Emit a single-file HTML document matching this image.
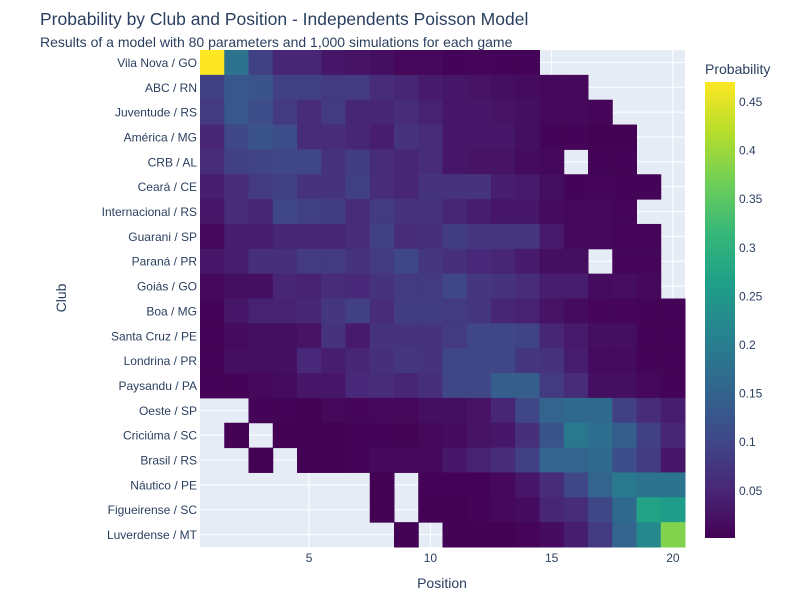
<!DOCTYPE html>
<html><head><meta charset="utf-8">
<style>
body{margin:0;background:#fff;}
svg{display:block;font-family:"Liberation Sans",sans-serif;}
</style></head>
<body>
<svg id="chart" width="800" height="600" xmlns="http://www.w3.org/2000/svg">
<rect width="800" height="600" fill="#fff"/>
<text x="40" y="25" font-size="17.5" fill="#2a3f5f">Probability by Club and Position - Independents Poisson Model</text>
<text x="40" y="47" font-size="14" fill="#2a3f5f">Results of a model with 80 parameters and 1,000 simulations for each game</text>
<rect x="200" y="50" width="485" height="497" fill="#e5ecf6"/>
<g id="grid"></g>
<g id="cells"></g>
<g id="yticks"></g>
<g id="xticks"></g>
<text x="442" y="588" font-size="14" fill="#2a3f5f" text-anchor="middle">Position</text>
<text x="0" y="0" font-size="14" fill="#2a3f5f" text-anchor="middle" transform="translate(66,298) rotate(-90)">Club</text>
<text x="705" y="74" font-size="14" fill="#2a3f5f">Probability</text>
<defs><linearGradient id="vir" x1="0" y1="1" x2="0" y2="0"></linearGradient></defs>
<rect x="705" y="82" width="30" height="456" fill="url(#vir)"/>
<g id="cbticks"></g>
</svg>
<script>
const clubs=["Vila Nova / GO","ABC / RN","Juventude / RS","América / MG","CRB / AL","Ceará / CE","Internacional / RS","Guarani / SP","Paraná / PR","Goiás / GO","Boa / MG","Santa Cruz / PE","Londrina / PR","Paysandu / PA","Oeste / SP","Criciúma / SC","Brasil / RS","Náutico / PE","Figueirense / SC","Luverdense / MT"];
const positions=[1,2,3,4,5,6,7,8,9,10,11,12,13,14,15,16,17,18,19,20];
const xTicks=[5,10,15,20];
const cbTicks=[0.05,0.1,0.15,0.2,0.25,0.3,0.35,0.4,0.45];
const N=null;
const r0=[0.47,0.18,0.09,0.05,0.05,0.03,0.025,0.02,0.01,0.01,0.005,0.008,0.005,0.005,N,N,N,N,N,N];
const r1=[0.09,0.13,0.12,0.09,0.09,0.08,0.08,0.06,0.05,0.035,0.03,0.025,0.02,0.015,0.01,0.01,N,N,N,N];
const r2=[0.08,0.13,0.11,0.08,0.06,0.08,0.05,0.05,0.06,0.045,0.03,0.03,0.025,0.02,0.01,0.01,0.008,N,N,N];
const r3=[0.05,0.1,0.12,0.11,0.06,0.06,0.05,0.04,0.07,0.06,0.03,0.03,0.03,0.02,0.005,0.005,0.003,0.003,N,N];
const r4=[0.06,0.09,0.095,0.1,0.1,0.07,0.085,0.06,0.05,0.06,0.03,0.025,0.025,0.015,0.012,N,0.005,0.005,N,N];
const r5=[0.04,0.06,0.08,0.09,0.07,0.07,0.09,0.06,0.05,0.07,0.07,0.07,0.04,0.035,0.02,0.005,0.008,0.005,0.005,N];
const r6=[0.03,0.06,0.05,0.1,0.09,0.085,0.06,0.08,0.07,0.07,0.05,0.04,0.03,0.03,0.015,0.01,0.01,0.008,N,N];
const r7=[0.01,0.04,0.04,0.05,0.05,0.05,0.06,0.09,0.06,0.065,0.085,0.075,0.075,0.075,0.035,0.012,0.012,0.008,0.008,N];
const r8=[0.03,0.04,0.065,0.065,0.08,0.08,0.07,0.08,0.1,0.075,0.065,0.055,0.05,0.035,0.02,0.02,N,0.008,0.008,N];
const r9=[0.01,0.02,0.02,0.05,0.045,0.06,0.055,0.07,0.08,0.08,0.1,0.075,0.07,0.06,0.04,0.04,0.015,0.018,0.01,N];
const r10=[0.005,0.03,0.045,0.045,0.05,0.075,0.09,0.06,0.085,0.085,0.08,0.075,0.05,0.045,0.025,0.015,0.008,0.008,0.005,0.005];
const r11=[0.005,0.015,0.02,0.02,0.025,0.07,0.035,0.07,0.07,0.07,0.08,0.1,0.1,0.095,0.05,0.035,0.02,0.02,0.005,0.005];
const r12=[0.005,0.02,0.02,0.02,0.055,0.04,0.05,0.065,0.075,0.07,0.1,0.1,0.1,0.075,0.07,0.04,0.015,0.015,0.005,0.005];
const r13=[0.005,0.005,0.01,0.015,0.03,0.03,0.055,0.06,0.05,0.065,0.1,0.1,0.14,0.14,0.08,0.06,0.02,0.02,0.01,0.005];
const r14=[N,N,0.005,0.005,0.003,0.01,0.008,0.012,0.01,0.02,0.02,0.025,0.05,0.1,0.15,0.16,0.16,0.09,0.06,0.04];
const r15=[N,0.003,N,0.003,0.003,0.003,0.005,0.007,0.006,0.01,0.015,0.025,0.03,0.065,0.12,0.19,0.17,0.14,0.09,0.05];
const r16=[N,N,0.003,N,0.003,0.003,0.005,0.01,0.01,0.012,0.03,0.045,0.06,0.09,0.15,0.15,0.16,0.11,0.08,0.03];
const r17=[N,N,N,N,N,N,N,0.003,N,0.004,0.004,0.004,0.01,0.03,0.06,0.1,0.15,0.19,0.18,0.18];
const r18=[N,N,N,N,N,N,N,0.003,N,0.003,0.003,0.005,0.01,0.015,0.05,0.06,0.1,0.16,0.27,0.26];
const r19=[N,N,N,N,N,N,N,N,0.003,N,0.003,0.003,0.003,0.008,0.015,0.04,0.08,0.15,0.22,0.38];
const values=[r0,r1,r2,r3,r4,r5,r6,r7,r8,r9,r10,r11,r12,r13,r14,r15,r16,r17,r18,r19];

const NS="http://www.w3.org/2000/svg";
const X0=200,X1=685,Y0=50,Y1=547;
const cw=(X1-X0)/positions.length, rh=(Y1-Y0)/clubs.length;
function xs(p){return X0+(p-0.5)*cw;}
function ys(i){return Y0+(i+0.5)*rh;}
const zmin=0.001,zmax=0.47;
const CB0=538,CB1=82;
function cby(v){return CB0-(v-zmin)/(zmax-zmin)*(CB0-CB1);}
const vir=[[68,1,84],[72,40,120],[62,74,137],[49,104,142],[38,130,142],[31,158,137],[53,183,121],[110,206,88],[181,222,43],[253,231,37]];
function color(v){let t=Math.max(0,Math.min(1,(v-zmin)/(zmax-zmin)))*(vir.length-1);let i=Math.min(Math.floor(t),vir.length-2),f=t-i;
const c=vir[i].map((a,k)=>Math.round(a+(vir[i+1][k]-a)*f));return `rgb(${c[0]},${c[1]},${c[2]})`;}
function el(tag,attrs,parent){const e=document.createElementNS(NS,tag);for(const k in attrs)e.setAttribute(k,attrs[k]);parent.appendChild(e);return e;}

const grid=document.getElementById('grid');
clubs.forEach((c,i)=>{const l=el('line',{x1:X0,x2:X1,y1:ys(i),y2:ys(i),stroke:'#fff','stroke-width':1},grid);

});
xTicks.forEach(t=>{const l=el('line',{x1:xs(t),x2:xs(t),y1:Y0,y2:Y1,stroke:'#fff','stroke-width':1},grid);

});

const cells=document.getElementById('cells');
values.forEach((row,i)=>row.forEach((v,j)=>{if(v===null)return;
const r=el('rect',{x:xs(positions[j])-cw/2,y:ys(i)-rh/2,width:cw+0.5,height:rh+0.5,fill:color(v)},cells);

}));

const yt=document.getElementById('yticks');
clubs.forEach((c,i)=>{const t=el('text',{x:X0-3,y:ys(i)+4.5,'font-size':12,fill:'#2a3f5f','text-anchor':'end'},yt);t.textContent=c;

});
const xt=document.getElementById('xticks');
xTicks.forEach(v=>{const t=el('text',{x:xs(v),y:562,'font-size':12,fill:'#2a3f5f','text-anchor':'middle'},xt);t.textContent=v;

});

const g=document.querySelector('#vir');
vir.forEach((c,i)=>el('stop',{offset:i/(vir.length-1),'stop-color':`rgb(${c})`},g));
const cbt=document.getElementById('cbticks');
cbTicks.forEach(v=>{const t=el('text',{x:739,y:cby(v)+4.5,'font-size':12,fill:'#2a3f5f'},cbt);t.textContent=v;

});
</script>
</body></html>
